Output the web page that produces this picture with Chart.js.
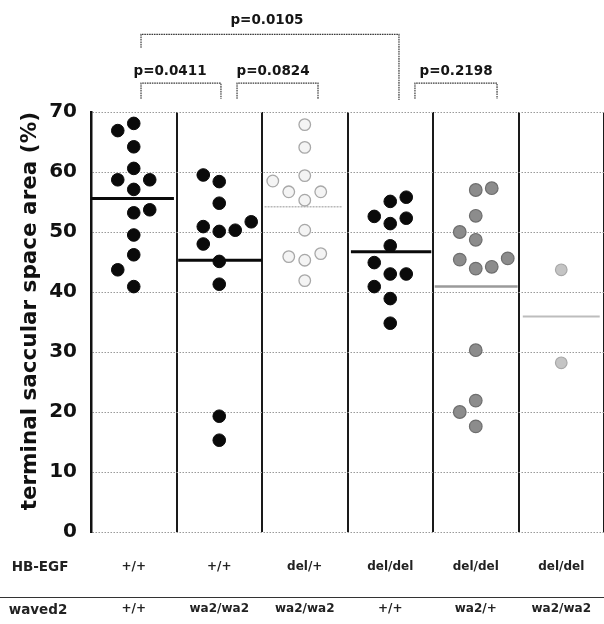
<!DOCTYPE html>
<html><head><meta charset="utf-8">
<script src="https://cdn.jsdelivr.net/npm/chart.js@4/dist/chart.umd.min.js"></script>
<style>html,body{margin:0;padding:0;background:#fff;}canvas{display:block}</style>
</head><body>
<canvas id="c" width="604" height="624"></canvas>
<script>
// ---- data ----
const hbEgf  = ["+/+", "+/+", "del/+", "del/del", "del/del", "del/del"];
const waved2 = ["+/+", "wa2/wa2", "wa2/wa2", "+/+", "wa2/+", "wa2/wa2"];
const yTicks = [0, 10, 20, 30, 40, 50, 60, 70];

const g1 = [68.1, 66.9, 64.2, 60.6, 58.7, 58.7, 57.1, 53.2, 53.7, 49.5, 46.2, 43.7, 40.9];
const g1jit = [0, -1, 0, 0, -1, 1, 0, 0, 1, 0, 0, -1, 0];
const g2 = [59.5, 58.4, 54.8, 51.7, 50.9, 50.1, 50.3, 48.0, 45.1, 41.3, 19.3, 15.3];
const g2jit = [-1, 0, 0, 2, -1, 0, 1, -1, 0, 0, 0, 0];
const g3 = [67.9, 64.1, 59.4, 58.5, 56.7, 56.7, 55.3, 50.3, 45.9, 46.4, 45.3, 41.9];
const g3jit = [0, 0, 0, -2, -1, 1, 0, 0, -1, 1, 0, 0];
const g4 = [55.8, 55.1, 52.6, 51.4, 52.3, 47.7, 44.9, 43.0, 43.0, 40.9, 38.9, 34.8];
const g4jit = [1, 0, -1, 0, 1, 0, -1, 0, 1, -1, 0, 0];
const g5 = [57.0, 57.3, 52.7, 50.0, 48.7, 45.4, 43.9, 44.2, 45.6, 30.3, 21.9, 20.0, 17.6];
const g5jit = [0, 1, 0, -1, 0, -1, 0, 1, 2, 0, 0, -1, 0];
const g6 = [43.7, 28.2];
const g6jit = [0, 0];

const means = [55.6, 45.3, 54.2, 46.7, 40.9, 35.9];

const pLabels = ["p=0.0105", "p=0.0411", "p=0.0824", "p=0.2198"];

// ---- styling / layout ----
const groups = [g1, g2, g3, g4, g5, g6];
const jits = [g1jit, g2jit, g3jit, g4jit, g5jit, g6jit];
const JSTEP = 0.187;
const pointStyles = [
  {bg:'#0a0a0a', bd:'#0a0a0a', r:6.3, bw:1},
  {bg:'#0a0a0a', bd:'#0a0a0a', r:6.3, bw:1},
  {bg:'#f4f4f4', bd:'#a8a8a8', r:5.8, bw:1.3},
  {bg:'#0a0a0a', bd:'#0a0a0a', r:6.3, bw:1},
  {bg:'#8c8c8c', bd:'#6e6e6e', r:6.3, bw:1.2},
  {bg:'#c4c4c4', bd:'#a8a8a8', r:5.8, bw:1.2}
];
// mean-line extents within each column (fraction of the column)
const meanStyles = [
  {c:'#0a0a0a', w:3, dash:[], a:0.0, b:0.97},
  {c:'#0a0a0a', w:3, dash:[], a:0.02, b:1.0},
  {c:'#b8b8b8', w:1.5, dash:[2,1], a:0.03, b:0.94},
  {c:'#0a0a0a', w:3, dash:[], a:0.04, b:0.98},
  {c:'#9a9a9a', w:2.5, dash:[], a:0.02, b:0.99},
  {c:'#bdbdbd', w:2, dash:[], a:0.05, b:0.95}
];
// brackets: x ends in axis units, y levels in value units (above 70)
const brackets = [
  {x1:0.585, x2:3.602, top:82.95, endL:80.7, endR:72.0, tx:2.058, ty:85.3},
  {x1:0.585, x2:1.520, top:74.8, endL:72.2, endR:72.2, tx:0.924, ty:76.7},
  {x1:1.708, x2:2.655, top:74.8, endL:72.2, endR:72.2, tx:2.129, ty:76.7},
  {x1:3.789, x2:4.749, top:74.8, endL:72.2, endR:72.2, tx:4.269, ty:76.7}
];

const datasets = [];
groups.forEach((vals, i) => {
  const s = pointStyles[i];
  datasets.push({
    type:'scatter', xAxisID:'x', yAxisID:'y',
    data: vals.map((v, k) => ({x: i + 0.5 + jits[i][k] * JSTEP, y: v})),
    backgroundColor: s.bg, borderColor: s.bd, pointRadius: s.r, borderWidth: s.bw,
    pointStyle:'circle', order: 1
  });
});
means.forEach((m, i) => {
  const s = meanStyles[i];
  datasets.push({
    type:'line', xAxisID:'x', yAxisID:'y',
    data: [{x: i + s.a, y: m}, {x: i + s.b, y: m}],
    borderColor: s.c, borderWidth: s.w, borderDash: s.dash,
    pointRadius: 0, fill:false, order: 2
  });
});

const FONT = 'DejaVu Sans';
const annot = {
  id:'annot',
  afterDraw(chart){
    const ctx = chart.ctx, xs = chart.scales.x, ys = chart.scales.y;
    ctx.save();
    ctx.strokeStyle = '#3a3a3a'; ctx.lineWidth = 1.2; ctx.setLineDash([1.6, 0.8]);
    ctx.fillStyle = '#151515';
    ctx.font = 'bold 13.5px "' + FONT + '"';
    ctx.textAlign = 'center'; ctx.textBaseline = 'middle';
    brackets.forEach((b, i) => {
      const x1 = xs.getPixelForValue(b.x1), x2 = xs.getPixelForValue(b.x2);
      const yt = ys.getPixelForValue(b.top);
      ctx.beginPath();
      ctx.moveTo(x1, ys.getPixelForValue(b.endL));
      ctx.lineTo(x1, yt); ctx.lineTo(x2, yt);
      ctx.lineTo(x2, ys.getPixelForValue(b.endR));
      ctx.stroke();
      ctx.fillText(pLabels[i], xs.getPixelForValue(b.tx), ys.getPixelForValue(b.ty));
    });
    // separator line between genotype rows
    ctx.setLineDash([]);
    ctx.strokeStyle = '#333'; ctx.lineWidth = 1;
    ctx.beginPath(); ctx.moveTo(0, 597.5); ctx.lineTo(604, 597.5); ctx.stroke();
    ctx.font = 'bold 13.5px "' + FONT + '"';
    ctx.fillStyle = '#222';
    ctx.fillText('HB-EGF', 40, 567);
    ctx.fillText('waved2', 38, 610);
    ctx.restore();
  }
};

new Chart(document.getElementById('c'), {
  data: { datasets },
  options: {
    responsive:false, animation:false, devicePixelRatio:1,
    layout:{autoPadding:false, padding:{top:112, left:0, right:0, bottom:0}},
    plugins:{legend:{display:false}, tooltip:{enabled:false}},
    scales:{
      x:{
        type:'linear', min:0, max:6, position:'bottom',
        ticks:{display:false, stepSize:1},
        grid:{color:'#1a1a1a', lineWidth:2, drawTicks:false},
        border:{display:false},
        afterFit(s){ s.height = 0; s.paddingLeft = 0; s.paddingRight = 0; }
      },
      xl:{
        type:'category', labels: hbEgf.map((h, i) => [h, waved2[i]]),
        position:'bottom', offset:true,
        grid:{display:false, drawTicks:false}, border:{display:false},
        ticks:{font:{family:FONT, weight:'bold', size:12, lineHeight:3.5}, color:'#222', padding:14, maxRotation:0, autoSkip:false},
        afterFit(s){ s.height = 92; s.paddingLeft = 0; s.paddingRight = 0; }
      },
      y:{
        min:0, max:70,
        afterBuildTicks(s){ s.ticks = yTicks.map(v => ({value:v})); },
        ticks:{font:{family:FONT, weight:'bold', size:20}, color:'#111', padding:14},
        grid:{color:'#9a9a9a', lineWidth:1, drawTicks:false},
        border:{display:true, color:'#111', width:2.5, dash:[1.5,1.5]},
        title:{display:true, text:'terminal saccular space area (%)', color:'#111', align:'end',
               font:{family:FONT, weight:'bold', size:21.5}, padding:{top:18, bottom:0}},
        afterFit(s){ s.width = 91; s.paddingTop = 0; s.paddingBottom = 0; }
      }
    }
  },
  plugins:[annot]
});
</script>
</body></html>
